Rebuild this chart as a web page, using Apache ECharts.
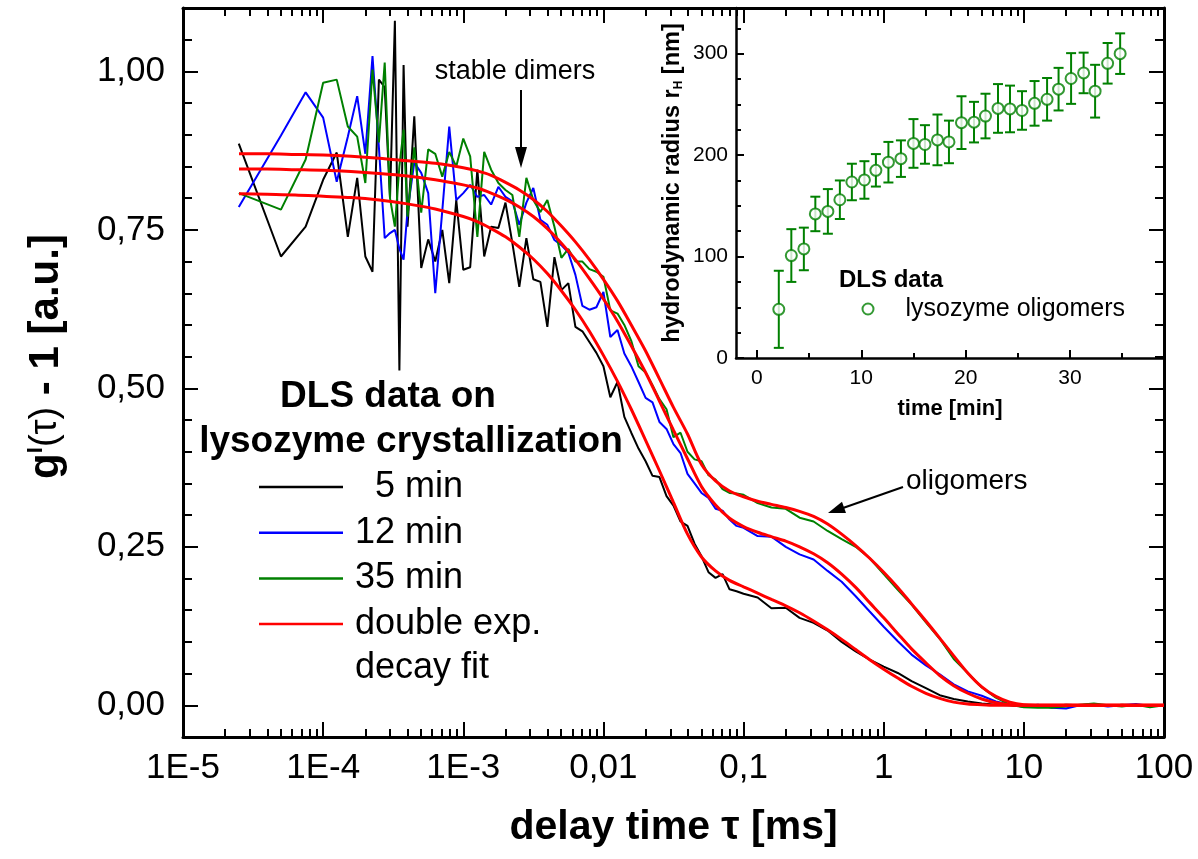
<!DOCTYPE html>
<html><head><meta charset="utf-8">
<script src="https://cdn.jsdelivr.net/npm/echarts@6/dist/echarts.min.js"></script>
<style>html,body{margin:0;padding:0;background:#fff}#c{width:1198px;height:859px}</style>
</head><body><div id="c"></div><script>
// ---------- main chart data ----------
const tau = [2.5e-5, 5e-5, 7.5e-5, 1e-4, 1.25e-4, 1.5e-4, 1.75e-4, 2e-4, 2.25e-4, 2.5e-4, 2.75e-4, 3e-4, 3.25e-4, 3.5e-4, 3.75e-4, 4e-4,
  4.47e-4, 5.01e-4, 5.62e-4, 6.31e-4, 7.08e-4, 7.94e-4, 8.91e-4,
  1e-3, 1.12e-3, 1.26e-3, 1.41e-3, 1.58e-3, 1.78e-3, 2e-3, 2.24e-3, 2.51e-3, 2.82e-3, 3.16e-3, 3.55e-3, 3.98e-3, 4.47e-3, 5.01e-3, 5.62e-3, 6.31e-3, 7.08e-3, 7.94e-3, 8.91e-3,
  0.01, 0.0112, 0.0126, 0.0141, 0.0158, 0.0178, 0.02, 0.0224, 0.0251, 0.0282, 0.0316, 0.0355, 0.0398, 0.0447, 0.0501, 0.0562, 0.0631, 0.0708, 0.0794, 0.0891,
  0.1, 0.126, 0.158, 0.2, 0.251, 0.316, 0.398, 0.501, 0.631, 0.794,
  1, 1.26, 1.58, 2, 2.51, 3.16, 3.98, 5.01, 6.31, 7.94,
  10, 12.6, 15.8, 20, 25.1, 31.6, 39.8, 50.1, 63.1, 79.4, 100];
const g5min = [0.886, 0.708, 0.755, 0.829, 0.872, 0.739, 0.832, 0.708, 0.684, 0.987, 0.975, 0.80, 1.08, 0.528, 1.01, 0.755,
  0.929, 0.690, 0.735, 0.70, 0.75, 0.666, 0.797,
  0.687, 0.691, 0.845, 0.708, 0.755, 0.753, 0.793, 0.729, 0.66, 0.737, 0.672, 0.668, 0.597, 0.707, 0.655, 0.666, 0.597, 0.59, 0.573, 0.556,
  0.535, 0.486, 0.51, 0.455, 0.43, 0.405, 0.385, 0.362, 0.36, 0.33, 0.315, 0.29, 0.283, 0.255, 0.235, 0.21, 0.201, 0.207, 0.183, 0.18,
  0.176, 0.17, 0.153, 0.154, 0.138, 0.13, 0.118, 0.10, 0.085, 0.072,
  0.061, 0.051, 0.038, 0.027, 0.016, 0.010, 0.006, 0.003, 0.001, 0.000,
  -0.002, 0.000, -0.001, 0.001, 0.000, 0.002, -0.001, 0.001, 0.000, -0.001, 0.000];
const g12min = [0.786, 0.899, 0.967, 0.927, 0.826, 0.897, 0.961, 0.87, 1.024, 0.88, 0.737, 0.745, 0.75, 0.72, 0.703, 0.78,
  0.856, 0.84, 0.808, 0.65, 0.78, 0.913, 0.797,
  0.808, 0.821, 0.802, 0.805, 0.79, 0.818, 0.802, 0.795, 0.758, 0.793, 0.816, 0.766, 0.758, 0.734, 0.726, 0.714, 0.679, 0.63, 0.624, 0.628,
  0.652, 0.581, 0.592, 0.555, 0.535, 0.51, 0.485, 0.478, 0.447, 0.436, 0.412, 0.398, 0.365, 0.35, 0.335, 0.327, 0.31, 0.307, 0.293, 0.283,
  0.28, 0.267, 0.266, 0.25, 0.238, 0.23, 0.212, 0.195, 0.172, 0.148,
  0.124, 0.101, 0.08, 0.063, 0.049, 0.033, 0.022, 0.015, 0.006, 0.001,
  -0.002, 0.001, -0.004, -0.005, 0.000, 0.001, -0.002, 0.000, 0.002, -0.001, 0.000];
const g35min = [0.808, 0.782, 0.861, 0.982, 0.987, 0.913, 0.897, 0.824, 1.003, 0.888, 1.014, 0.80, 0.755, 0.85, 0.908, 0.771,
  0.880, 0.777, 0.877, 0.87, 0.834, 0.873, 0.85,
  0.894, 0.866, 0.739, 0.873, 0.845, 0.824, 0.813, 0.805, 0.739, 0.832, 0.797, 0.778, 0.797, 0.755, 0.706, 0.72, 0.70, 0.70, 0.688, 0.684,
  0.676, 0.623, 0.618, 0.60, 0.575, 0.535, 0.525, 0.505, 0.483, 0.467, 0.423, 0.43, 0.40, 0.388, 0.385, 0.363, 0.356, 0.341, 0.335, 0.334,
  0.332, 0.319, 0.312, 0.310, 0.296, 0.29, 0.275, 0.262, 0.25, 0.232,
  0.207, 0.182, 0.159, 0.131, 0.105, 0.073, 0.051, 0.028, 0.012, 0.001,
  -0.003, -0.004, -0.004, -0.002, 0.001, 0.003, 0.000, -0.002, 0.001, -0.003, 0.000];

const fitTau = [2.51e-5, 3.98e-5, 6.31e-5, 1e-4, 1.58e-4, 2.51e-4, 3.98e-4, 6.31e-4, 1e-3,
  1.26e-3, 1.58e-3, 2e-3, 2.51e-3, 3.16e-3, 3.98e-3, 5.01e-3, 6.31e-3, 7.94e-3,
  0.01, 0.0126, 0.0158, 0.02, 0.0251, 0.0316, 0.0398, 0.0501, 0.0631, 0.0794,
  0.1, 0.126, 0.158, 0.2, 0.251, 0.316, 0.398, 0.501, 0.631, 0.794,
  1, 1.26, 1.58, 2, 2.51, 3.16, 3.98, 5.01, 6.31, 7.94,
  10, 15.8, 25.1, 39.8, 63.1, 100];
const fit5min = [0.807, 0.806, 0.805, 0.803, 0.801, 0.797, 0.791, 0.783, 0.771,
  0.763, 0.752, 0.739, 0.723, 0.704, 0.681, 0.654, 0.624, 0.590,
  0.552, 0.511, 0.467, 0.418, 0.370, 0.320, 0.270, 0.234, 0.212, 0.197,
  0.187, 0.177, 0.167, 0.157, 0.146, 0.133, 0.119, 0.104, 0.088, 0.072,
  0.057, 0.043, 0.030, 0.019, 0.011, 0.005, 0.002, 0.001, 0, 0,
  0, 0, 0, 0, 0, 0];
const fit12min = [0.846, 0.846, 0.845, 0.844, 0.842, 0.839, 0.835, 0.829, 0.821,
  0.816, 0.808, 0.798, 0.786, 0.771, 0.752, 0.729, 0.703, 0.673,
  0.641, 0.606, 0.567, 0.525, 0.480, 0.434, 0.389, 0.345, 0.316, 0.295,
  0.282, 0.273, 0.266, 0.259, 0.250, 0.239, 0.225, 0.207, 0.186, 0.162,
  0.138, 0.113, 0.089, 0.067, 0.047, 0.031, 0.019, 0.010, 0.004, 0.001,
  0, 0, 0, 0, 0, 0];
const fit35min = [0.870, 0.870, 0.869, 0.868, 0.866, 0.863, 0.859, 0.855, 0.848,
  0.843, 0.836, 0.825, 0.813, 0.798, 0.779, 0.756, 0.731, 0.703,
  0.672, 0.638, 0.600, 0.559, 0.515, 0.470, 0.428, 0.380, 0.354, 0.338,
  0.329, 0.322, 0.317, 0.312, 0.306, 0.298, 0.286, 0.270, 0.252, 0.232,
  0.210, 0.186, 0.160, 0.133, 0.106, 0.078, 0.051, 0.029, 0.014, 0.005,
  0.001, 0, 0, 0, 0, 0];

const xTickValues = [1e-5, 1e-4, 1e-3, 0.01, 0.1, 1, 10, 100];
const xTickLabels = ['1E-5', '1E-4', '1E-3', '0,01', '0,1', '1', '10', '100'];
const xMinorTicks = [2e-5, 3e-5, 4e-5, 5e-5, 6e-5, 7e-5, 8e-5, 9e-5,
  2e-4, 3e-4, 4e-4, 5e-4, 6e-4, 7e-4, 8e-4, 9e-4,
  2e-3, 3e-3, 4e-3, 5e-3, 6e-3, 7e-3, 8e-3, 9e-3,
  0.02, 0.03, 0.04, 0.05, 0.06, 0.07, 0.08, 0.09,
  0.2, 0.3, 0.4, 0.5, 0.6, 0.7, 0.8, 0.9,
  2, 3, 4, 5, 6, 7, 8, 9,
  20, 30, 40, 50, 60, 70, 80, 90];
const yTickValues = [0, 0.25, 0.5, 0.75, 1.0];
const yTickLabels = ['0,00', '0,25', '0,50', '0,75', '1,00'];
const yMinorTicks = [-0.05, 0.05, 0.1, 0.15, 0.2, 0.3, 0.35, 0.4, 0.45, 0.55, 0.6, 0.65, 0.7, 0.8, 0.85, 0.9, 0.95, 1.05];

// ---------- inset data ----------
const insetTime = [2.1, 3.3, 4.5, 5.6, 6.8, 7.95, 9.1, 10.3, 11.4, 12.6, 13.8, 15.0, 16.1, 17.3, 18.4, 19.6, 20.8, 21.9, 23.1, 24.25, 25.4, 26.6, 27.8, 28.9, 30.1, 31.3, 32.4, 33.6, 34.8];
const insetRadius = [48, 101, 107.5, 142, 144.5, 156, 173.5, 175.5, 185, 193, 196.5, 211.5, 210.5, 215, 213, 232, 232.5, 238.5, 246, 245.5, 244, 251, 255, 265, 275.5, 281, 263, 290.5, 300];
const insetError = [38, 26, 21, 17, 22, 19, 18, 18.5, 16, 20, 18, 24, 19, 25, 21, 26, 20, 22, 24, 23, 19, 22, 21, 21, 25, 20, 26, 20, 20];
const insetXTicks = [0, 10, 20, 30];
const insetXMinor = [5, 15, 25, 35];
const insetYTicks = [0, 100, 200, 300];
const insetYMinor = [25, 50, 75, 125, 150, 175, 225, 250, 275, 325];

// ---------- chart ----------
const FONT = "'Liberation Sans', Arial, Helvetica, sans-serif";
const GREEN = '#008000';
const chart = echarts.init(document.getElementById('c'), null, {renderer: 'canvas', width: 1198, height: 859});
function labelFor(values, labels) {
  return function (v) {
    for (let i = 0; i < values.length; i++) {
      if (Math.abs(values[i] - v) <= Math.abs(values[i]) * 1e-6 + 1e-9) return labels[i];
    }
    return '';
  };
}
function tickAxis(extra, ticks, len, lw, showLine) {
  return Object.assign({
    axisLine: {show: showLine, onZero: false, lineStyle: {color: '#000', width: lw}},
    axisTick: {show: true, inside: true, length: len, customValues: ticks, lineStyle: {color: '#000', width: 2}},
    axisLabel: {show: false},
    splitLine: {show: false},
    minorTick: {show: false}
  }, extra);
}
const mainX = {type: 'log', logBase: 10, gridIndex: 0, min: 1e-5, max: 100};
const mainY = {type: 'value', gridIndex: 0, min: -0.05, max: 1.1};
const inX = {type: 'value', gridIndex: 1, min: -2, max: 39};
const inY = {type: 'value', gridIndex: 1, min: 0, max: 345};

const xAxes = [
  tickAxis(Object.assign({}, mainX, {position: 'bottom',
    axisLabel: {show: true, customValues: xTickValues, formatter: labelFor(xTickValues, xTickLabels), fontSize: 35, fontFamily: FONT, color: '#000', margin: 14},
    name: 'delay time τ [ms]', nameLocation: 'middle', nameGap: 70,
    nameTextStyle: {fontSize: 41, fontWeight: 'bold', fontFamily: FONT, color: '#000'}}), xTickValues, 15, 3, true),
  tickAxis(Object.assign({}, mainX, {position: 'bottom'}), xMinorTicks, 8, 3, false),
  tickAxis(Object.assign({}, mainX, {position: 'top'}), xTickValues, 15, 3, true),
  tickAxis(Object.assign({}, mainX, {position: 'top'}), xMinorTicks, 8, 3, false),
  tickAxis(Object.assign({}, inX, {position: 'bottom',
    axisLabel: {show: true, customValues: insetXTicks, fontSize: 21, fontFamily: FONT, color: '#000', margin: 10},
    name: 'time [min]', nameLocation: 'middle', nameGap: 40,
    nameTextStyle: {fontSize: 22, fontWeight: 'bold', fontFamily: FONT, color: '#000'}}), insetXTicks, 8, 2.5, true),
  tickAxis(Object.assign({}, inX, {position: 'bottom'}), insetXMinor, 5, 2.5, false)
];
const yAxes = [
  tickAxis(Object.assign({}, mainY, {position: 'left',
    axisLabel: {show: true, customValues: yTickValues, formatter: labelFor(yTickValues, yTickLabels), fontSize: 35, fontFamily: FONT, color: '#000', margin: 18},
    name: '{b|g}{s|I}{n|(τ)}{b| - 1 [a.u.]}', nameLocation: 'middle', nameGap: 116,
    nameTextStyle: {color: '#000', padding: [0, 0, 0, 32], rich: {
      b: {fontSize: 42, fontWeight: 'bold', fontFamily: FONT, color: '#000'},
      s: {fontSize: 22, fontWeight: 'bold', fontFamily: FONT, color: '#000', verticalAlign: 'top'},
      n: {fontSize: 38, fontFamily: FONT, color: '#000'}}}}), yTickValues, 15, 3, true),
  tickAxis(Object.assign({}, mainY, {position: 'left'}), yMinorTicks, 9, 3, false),
  tickAxis(Object.assign({}, mainY, {position: 'right'}), yTickValues, 15, 3, true),
  tickAxis(Object.assign({}, mainY, {position: 'right'}), yMinorTicks, 9, 3, false),
  tickAxis(Object.assign({}, inY, {position: 'left',
    axisLabel: {show: true, customValues: insetYTicks, fontSize: 21, fontFamily: FONT, color: '#000', margin: 8},
    name: '{b|hydrodynamic radius r}{s|H}{b| [nm]}', nameLocation: 'middle', nameGap: 51,
    nameTextStyle: {color: '#000', rich: {
      b: {fontSize: 23.5, fontWeight: 'bold', fontFamily: FONT, color: '#000'},
      s: {fontSize: 12, fontWeight: 'bold', fontFamily: FONT, color: '#000', verticalAlign: 'bottom'}}}}), insetYTicks, 8, 2.5, true),
  tickAxis(Object.assign({}, inY, {position: 'left'}), insetYMinor, 5, 2.5, false)
];

function pairs(xs, ys) { return xs.map((x, i) => [x, ys[i]]); }
function dataLine(name, ys, color) {
  return {type: 'line', name: name, xAxisIndex: 0, yAxisIndex: 0, data: pairs(tau, ys), symbol: 'none', showSymbol: false,
    lineStyle: {color: color, width: 2}, itemStyle: {color: color}, z: 2, silent: true};
}
function fitLine(ys) {
  return {type: 'line', name: 'double exp.', xAxisIndex: 0, yAxisIndex: 0, data: pairs(fitTau, ys), symbol: 'none', showSymbol: false,
    smooth: 0.3, lineStyle: {color: '#ff0000', width: 3}, itemStyle: {color: '#ff0000'}, z: 3, silent: true};
}

const option = {
  animation: false,
  backgroundColor: '#fff',
  grid: [
    {left: 183, top: 8, right: 34, bottom: 122, outerBoundsMode: 'none', containLabel: false},
    {left: 736, top: 8, right: 34, bottom: 501, outerBoundsMode: 'none', containLabel: false}
  ],
  xAxis: xAxes,
  yAxis: yAxes,
  legend: [
    {data: [
        {name: '  5 min', itemStyle: {color: '#000000'}},
        {name: '12 min', itemStyle: {color: '#0000ff'}},
        {name: '35 min', itemStyle: {color: GREEN}},
        {name: 'double exp.', itemStyle: {color: '#ff0000'}}],
      orient: 'vertical', left: 259, top: 467, padding: 0, icon: 'rect',
      itemWidth: 84, itemHeight: 2.5, itemGap: 5.7, selectedMode: false,
      textStyle: {fontSize: 36, fontFamily: FONT, color: '#000', lineHeight: 40, padding: [0, 0, 0, 7]}},
    {data: ['lysozyme oligomers'], orient: 'vertical', left: 861.5, top: 295, padding: 0,
      itemWidth: 11, itemHeight: 11, selectedMode: false,
      textStyle: {fontSize: 25, fontFamily: FONT, color: '#000', lineHeight: 28, padding: [0, 0, 0, 27]}}
  ],
  series: [
    dataLine('  5 min', g5min, '#000000'),
    dataLine('12 min', g12min, '#0000ff'),
    dataLine('35 min', g35min, GREEN),
    fitLine(fit5min),
    fitLine(fit12min),
    fitLine(fit35min),
    {type: 'custom', name: 'error', xAxisIndex: 4, yAxisIndex: 4, silent: true, z: 3,
      data: insetTime.map((t, i) => [t, insetRadius[i] - insetError[i], insetRadius[i] + insetError[i]]),
      encode: {x: 0, y: [1, 2]},
      renderItem: function (params, api) {
        const x = api.value(0);
        const top = api.coord([x, api.value(2)]);
        const bot = api.coord([x, api.value(1)]);
        const c = 5;
        const st = {stroke: GREEN, lineWidth: 2};
        return {type: 'group', children: [
          {type: 'line', shape: {x1: top[0], y1: top[1], x2: bot[0], y2: bot[1]}, style: st},
          {type: 'line', shape: {x1: top[0] - c, y1: top[1], x2: top[0] + c, y2: top[1]}, style: st},
          {type: 'line', shape: {x1: bot[0] - c, y1: bot[1], x2: bot[0] + c, y2: bot[1]}, style: st}
        ]};
      }},
    {type: 'scatter', name: 'lysozyme oligomers', xAxisIndex: 4, yAxisIndex: 4, z: 4, silent: true,
      data: pairs(insetTime, insetRadius), symbol: 'circle', symbolSize: 11,
      itemStyle: {color: '#ffffff', borderColor: GREEN, borderWidth: 2}}
  ],
  graphic: [
    {type: 'text', z: 10, style: {text: 'DLS data on', x: 388, y: 397, align: 'center', verticalAlign: 'middle', textAlign: 'center', textVerticalAlign: 'middle', font: 'bold 37px ' + FONT, fill: '#000'}},
    {type: 'text', z: 10, style: {text: 'lysozyme crystallization', x: 411, y: 442, align: 'center', verticalAlign: 'middle', textAlign: 'center', textVerticalAlign: 'middle', font: 'bold 37px ' + FONT, fill: '#000'}},
    {type: 'text', z: 10, style: {text: 'decay fit', x: 355, y: 668, align: 'left', verticalAlign: 'middle', textAlign: 'left', textVerticalAlign: 'middle', font: '36px ' + FONT, fill: '#000'}},
    {type: 'text', z: 10, style: {text: 'stable dimers', x: 515, y: 72, align: 'center', verticalAlign: 'middle', textAlign: 'center', textVerticalAlign: 'middle', font: '27px ' + FONT, fill: '#000'}},
    {type: 'line', z: 10, shape: {x1: 521, y1: 90, x2: 521, y2: 150}, style: {stroke: '#000', lineWidth: 2}},
    {type: 'polygon', z: 10, shape: {points: [[515, 147], [527, 147], [521, 168]]}, style: {fill: '#000'}},
    {type: 'text', z: 10, style: {text: 'oligomers', x: 906, y: 481, align: 'left', verticalAlign: 'middle', textAlign: 'left', textVerticalAlign: 'middle', font: '28px ' + FONT, fill: '#000'}},
    {type: 'line', z: 10, shape: {x1: 903, y1: 487, x2: 843, y2: 508}, style: {stroke: '#000', lineWidth: 2}},
    {type: 'polygon', z: 10, shape: {points: [[828, 513], [846, 513], [842, 501.7]]}, style: {fill: '#000'}},
    {type: 'text', z: 10, style: {text: 'DLS data', x: 839, y: 280, align: 'left', verticalAlign: 'middle', textAlign: 'left', textVerticalAlign: 'middle', font: 'bold 24px ' + FONT, fill: '#000'}}
  ]
};
chart.setOption(option);
</script></body></html>
